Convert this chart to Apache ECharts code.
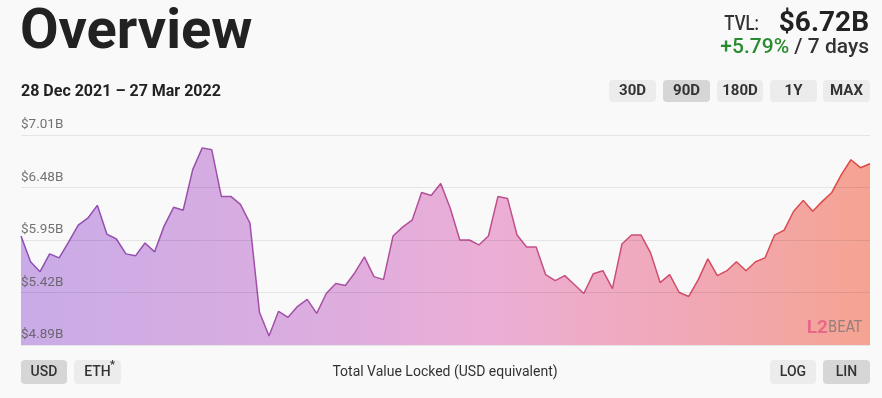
<!DOCTYPE html>
<html>
<head>
<meta charset="utf-8">
<script src="https://cdn.jsdelivr.net/npm/echarts@6/dist/echarts.min.js"></script>
<style>
html,body{margin:0;padding:0;background:#f9f9f9;}
#chart{width:882px;height:398px;}
</style>
</head>
<body>
<div id="chart"></div>
<script>
// ---- data ----
var startDate = '2021-12-28';
var tvlValues = [5.99,5.73,5.63,5.81,5.77,5.93,6.10,6.17,6.30,6.01,
  5.96,5.81,5.79,5.92,5.83,6.09,6.28,6.25,6.66,6.88,
  6.86,6.39,6.39,6.31,6.12,5.22,4.98,5.23,5.17,5.28,
  5.35,5.21,5.41,5.51,5.49,5.62,5.78,5.58,5.55,5.99,
  6.08,6.15,6.43,6.40,6.52,6.27,5.95,5.95,5.90,5.99,
  6.39,6.37,6.00,5.88,5.88,5.60,5.54,5.59,5.50,5.41,
  5.61,5.64,5.46,5.91,6.00,6.00,5.82,5.52,5.60,5.42,
  5.38,5.55,5.76,5.59,5.64,5.73,5.64,5.73,5.77,6.00,
  6.05,6.24,6.35,6.24,6.34,6.43,6.61,6.76,6.68,6.72];
var yTicks = [4.89, 5.42, 5.95, 6.48, 7.01];
var rangeButtons = ['30D','90D','180D','1Y','MAX'];
var rangeSelected = '90D';
var currencyButtons = ['USD','ETH'];
var scaleButtons = ['LOG','LIN'];
var titleText = 'Overview';
var dateRangeText = '28 Dec 2021 \u2013 27 Mar 2022';
var tvlText = '$6.72B';
var changeText = '+5.79%';
var changePeriod = ' / 7 days';
var footerText = 'Total Value Locked (USD equivalent)';

// categories (dates)
var categories = [];
(function(){
  var d = new Date(startDate + 'T00:00:00Z');
  for (var i = 0; i < tvlValues.length; i++) {
    categories.push(d.toISOString().slice(0,10));
    d.setUTCDate(d.getUTCDate() + 1);
  }
})();

// axis works in hundredths of a billion above the lowest tick, so ticks start at 0
var base = yTicks[0];
var toUnits = function(v){ return Math.round((v - base) * 100); };
var axisMaxU = toUnits(yTicks[yTicks.length-1]);
var axisStepU = toUnits(yTicks[1]);
var seriesData = tvlValues.map(toUnits);

var FONT = 'Roboto, "Noto Sans", sans-serif';

function button(x, y, w, h, label, selected, fontSize, weight) {
  return {
    type: 'group', z: 100,
    children: [
      {type:'rect', shape:{x:x, y:y, width:w, height:h, r:4},
       style:{fill: selected ? '#d6d6d6' : '#ececec'}},
      {type:'text', style:{x:x+w/2, y:y+h/2, text:label, fill:'#333',
        font: weight + ' ' + fontSize + 'px ' + FONT, textAlign:'center', textVerticalAlign:'middle'}}
    ]
  };
}

var graphics = [
  {type:'text', z:100, style:{x:20, y:34, text:titleText, fill:'#222',
    font:'bold 56px ' + FONT, textVerticalAlign:'middle'}},
  {type:'text', z:100, style:{x:21, y:92, text:dateRangeText, fill:'#222',
    font:'bold 16px ' + FONT, textVerticalAlign:'middle'}},
  {type:'text', z:100, style:{x:869, y:24, text:tvlText, fill:'#222',
    font:'bold 28px ' + FONT, textAlign:'right', textVerticalAlign:'middle'}},
  {type:'text', z:100, x:759, y:25, scaleX:0.8, style:{x:0, y:0, text:'TVL:', fill:'#333',
    font:'500 21px ' + FONT, textAlign:'right', textVerticalAlign:'middle'}},
  {type:'text', z:100, style:{x:869, y:48, text:'{g|' + changeText + '}{d|' + changePeriod + '}',
    textAlign:'right', textVerticalAlign:'middle',
    rich:{g:{fill:'#2a8a2f', font:'500 21px ' + FONT}, d:{fill:'#333', font:'500 21px ' + FONT}}}},
  {type:'text', z:100, style:{x:445, y:372, text:footerText, fill:'#333',
    font:'14px ' + FONT, textAlign:'center', textVerticalAlign:'middle'}},
  {type:'text', z:100, style:{x:862, y:328, text:'{l|L2}{b|BEAT}', textAlign:'right', textVerticalAlign:'middle',
    rich:{l:{fill:'rgba(225,80,130,0.7)', font:'bold 19px ' + FONT},
          b:{fill:'rgba(110,110,110,0.7)', font:'15px "DejaVu Sans Condensed", ' + FONT}}}}
];
var bx = [609, 663, 717, 770, 823];
var bw = [47, 47, 46, 47, 47];
rangeButtons.forEach(function(b, i){
  graphics.push(button(bx[i], 80, bw[i], 22, b, b === rangeSelected, 15, 'bold'));
});
graphics.push(button(21, 360, 46, 24, currencyButtons[0], true, 14, '500'));
graphics.push(button(74, 360, 47, 24, currencyButtons[1], false, 14, '500'));
graphics.push({type:'text', z:101, style:{x:110, y:365, text:'*', fill:'#333', font:'bold 11px ' + FONT, textVerticalAlign:'middle'}});
graphics.push(button(770, 360, 46, 24, scaleButtons[0], false, 14, '500'));
graphics.push(button(823, 360, 47, 24, scaleButtons[1], true, 14, '500'));

var chart = echarts.init(document.getElementById('chart'));
chart.setOption({
  backgroundColor: '#f9f9f9',
  animation: false,
  grid: {left:21, right:12, top:135, bottom:53, containLabel:false},
  xAxis: {type:'category', data:categories, boundaryGap:false,
    axisLine:{show:false}, axisTick:{show:false}, axisLabel:{show:false}, splitLine:{show:false}},
  yAxis: {type:'value', min:0, max:axisMaxU, interval:axisStepU, z:5,
    axisLine:{show:false}, axisTick:{show:false},
    splitLine:{show:true, lineStyle:{color:'rgba(0,0,0,0.08)', width:1}},
    axisLabel:{inside:true, margin:0, verticalAlign:'bottom', padding:[0,0,3,0],
      color:'rgba(90,90,90,0.85)', fontSize:13.5, fontFamily:FONT,
      formatter:function(v){ return '$' + (base + v / 100).toFixed(2) + 'B'; }}},
  series: [{
    type:'line', data:seriesData, symbol:'none', z:1,
    lineStyle:{width:1.5, color:new echarts.graphic.LinearGradient(0,0,1,0,[
      {offset:0, color:'#8c4fb4'},{offset:0.35, color:'#a550a6'},
      {offset:0.6, color:'#c44f86'},{offset:1, color:'#e2483f'}])},
    areaStyle:{opacity:1, color:new echarts.graphic.LinearGradient(0,0,1,0,[
      {offset:0, color:'#c9abe7'},{offset:0.35, color:'#dcaddf'},
      {offset:0.55, color:'#ebaed6'},{offset:0.8, color:'#f1a8b4'},{offset:1, color:'#f5a391'}])}
  }],
  graphic: graphics
});
</script>
</body>
</html>
